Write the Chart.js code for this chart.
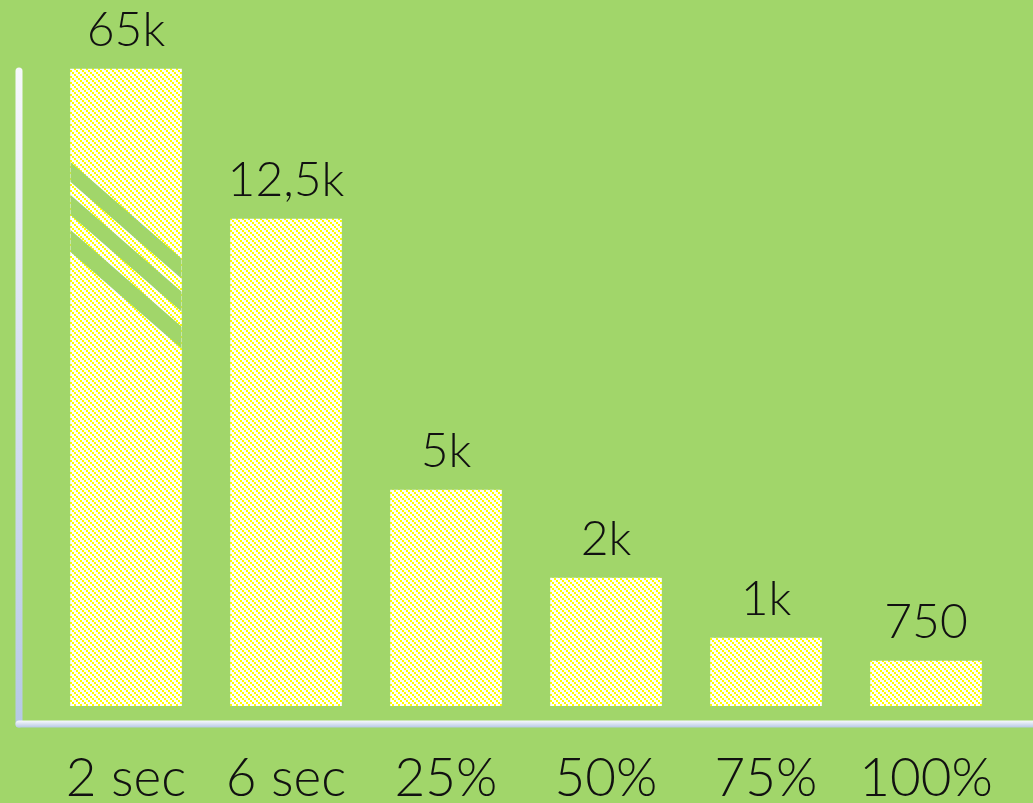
<!DOCTYPE html>
<html>
<head>
<meta charset="utf-8">
<script src="https://cdn.jsdelivr.net/npm/chart.js@4.4.1/dist/chart.umd.min.js"></script>
<style>
  html, body { margin: 0; padding: 0; background: #a1d66a; }
  #wrap { width: 1033px; height: 803px; }
</style>
</head>
<body>
<div id="wrap"><canvas id="myChart" width="1033" height="803"></canvas></div>
<script>
// categories along the bottom
var categories = ['2 sec', '6 sec', '25%', '50%', '75%', '100%'];
// value written above each bar
var valueLabels = ['65k', '12,5k', '5k', '2k', '1k', '750'];
// drawn bar heights (the picture's axis is not to scale, first bar is broken)
var barHeights = [637, 487, 216, 128, 68, 45];
// the three green cuts across the first bar, as [top, bottom] on the y scale at its left edge
var breakBands = [[544, 524], [511, 491], [476, 454]];

var bgColor = '#a1d66a';

function makeHatch() {
    var c = document.createElement('canvas');
    c.width = 6; c.height = 6;
    var g = c.getContext('2d');
    g.fillStyle = '#ffffff';
    g.fillRect(0, 0, 6, 6);
    g.fillStyle = '#ffff00';
    for (var i = 0; i < 6; i += 2) {
        g.fillRect(i, i, 2, 2);
    }
    return g.createPattern(c, 'repeat');
}

// axes, break marks and value labels
const decor = {
    id: 'decor',
    beforeDatasetsDraw: function (chart) {
        var ctx = chart.ctx;
        var area = chart.chartArea;
        var axisX = 19;
        var axisY = area.bottom + 18;
        ctx.save();
        ctx.lineCap = 'round';
        ctx.lineWidth = 7;
        var gv = ctx.createLinearGradient(0, 68, 0, axisY);
        gv.addColorStop(0, '#f6f8fb');
        gv.addColorStop(1, '#b6c9e6');
        ctx.strokeStyle = gv;
        ctx.beginPath();
        ctx.moveTo(axisX, 71);
        ctx.lineTo(axisX, axisY);
        ctx.stroke();
        var gh = ctx.createLinearGradient(0, axisY - 3, 0, axisY + 4);
        gh.addColorStop(0, '#f4f7fb');
        gh.addColorStop(1, '#b2c5e2');
        ctx.strokeStyle = gh;
        ctx.beginPath();
        ctx.moveTo(axisX, axisY);
        ctx.lineTo(chart.width + 10, axisY);
        ctx.stroke();
        ctx.restore();
    },
    afterDatasetsDraw: function (chart) {
        var ctx = chart.ctx;
        var meta = chart.getDatasetMeta(0);
        var yScale = chart.scales.y;
        var first = meta.data[0];
        var left = first.x - first.width / 2;
        var right = first.x + first.width / 2;
        var drop = first.width * 0.87;

        ctx.save();
        ctx.beginPath();
        ctx.rect(left, first.y, first.width, first.base - first.y);
        ctx.clip();
        ctx.fillStyle = bgColor;
        breakBands.forEach(function (b) {
            var t = yScale.getPixelForValue(b[0]);
            var bt = yScale.getPixelForValue(b[1]);
            ctx.beginPath();
            ctx.moveTo(left - 2, t - 2 * 0.87);
            ctx.lineTo(right + 2, t + drop + 2 * 0.87);
            ctx.lineTo(right + 2, bt + drop + 2 * 0.87);
            ctx.lineTo(left - 2, bt - 2 * 0.87);
            ctx.closePath();
            ctx.fill();
        });
        ctx.restore();

        ctx.save();
        ctx.fillStyle = '#111111';
        ctx.font = '300 48px Lato';
        ctx.textAlign = 'center';
        ctx.textBaseline = 'alphabetic';
        meta.data.forEach(function (bar, i) {
            ctx.fillText(valueLabels[i], bar.x, bar.y - 23);
        });
        ctx.restore();
    }
};

const config = {
    type: 'bar',
    data: {
        labels: categories,
        datasets: [{
            data: barHeights,
            backgroundColor: makeHatch(),
            borderWidth: 0,
            barThickness: 111
        }]
    },
    options: {
        responsive: false,
        animation: false,
        devicePixelRatio: 1,
        layout: { padding: { left: 46, right: 27, top: 66, bottom: 0 } },
        plugins: {
            legend: { display: false },
            tooltip: { enabled: false }
        },
        scales: {
            x: {
                grid: { display: false },
                border: { display: false },
                ticks: {
                    color: '#111111',
                    padding: 41,
                    maxRotation: 0,
                    font: { family: 'Lato', size: 53, weight: 300, lineHeight: '48px' }
                },
                afterFit: function (scale) {
                    scale.height = 97;
                    scale.paddingLeft = 0;
                    scale.paddingRight = 0;
                }
            },
            y: {
                display: false,
                min: 0,
                max: 640
            }
        }
    },
    plugins: [decor]
};

let myChart = new Chart(document.getElementById('myChart').getContext('2d'), config);
</script>
</body>
</html>
